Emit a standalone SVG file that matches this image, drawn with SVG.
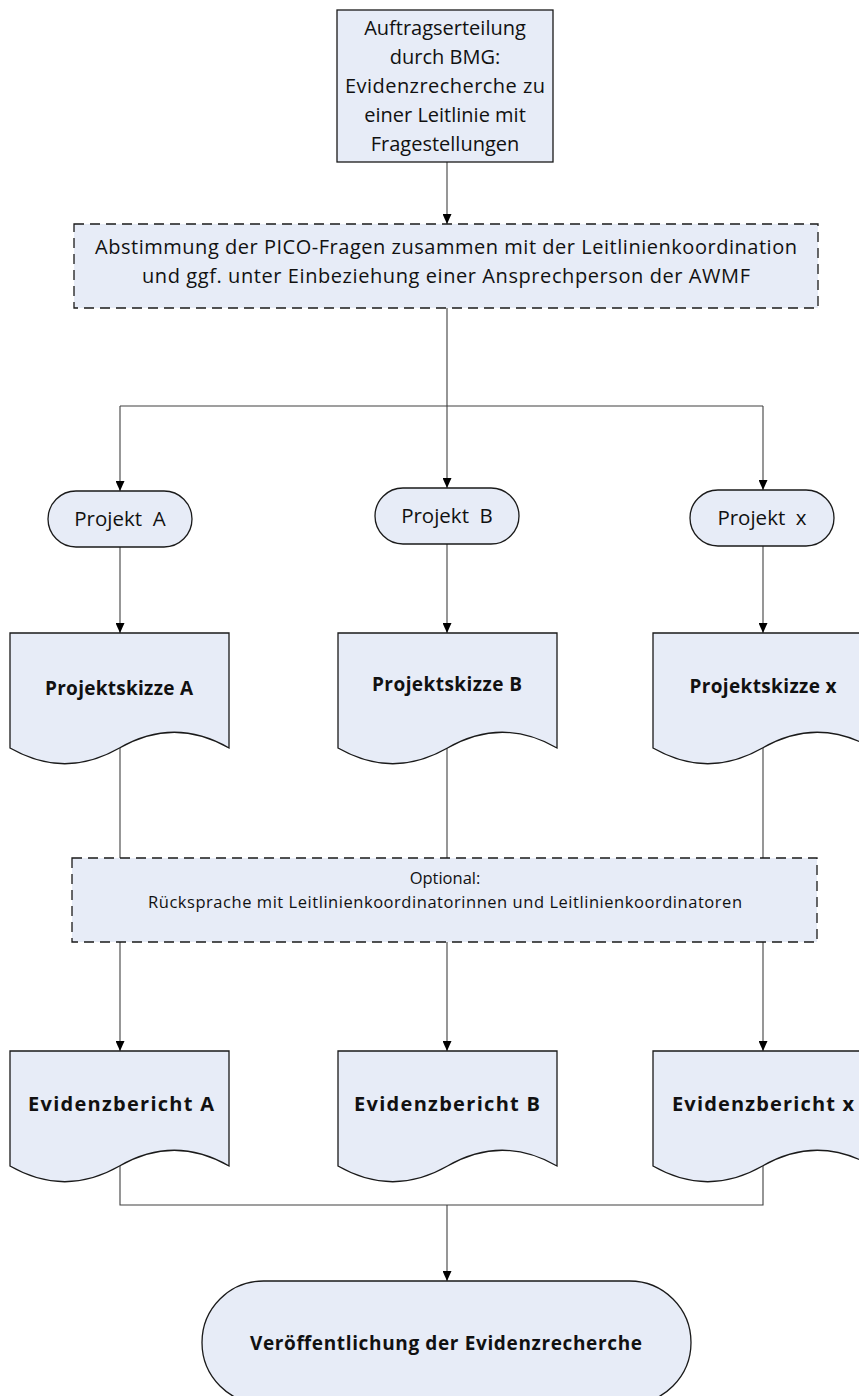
<svg xmlns="http://www.w3.org/2000/svg" xmlns:xlink="http://www.w3.org/1999/xlink" width="859" height="1396" viewBox="0 0 859 1396">
  <style>
    .box { fill: #e7ecf7; stroke: #1a1a1a; stroke-width: 1.3; }
    .dash { fill: #e7ecf7; stroke: #1a1a1a; stroke-width: 1.3; stroke-dasharray: 10 6; }
    .conn { fill: none; stroke: #404040; stroke-width: 1.1; }
    .arr { marker-end: url(#ah); }
    text { font-family: "Open Sans", Lato, "Liberation Sans", sans-serif; fill: #111; text-anchor: middle; }
    .t20 { font-size: 20px; }
    .t19 { font-size: 20px; }
    .t16 { font-size: 16.5px; }
    .p { font-size: 20.5px; }
    .b { font-weight: bold; font-size: 19px; }
    .be { font-weight: bold; font-size: 20px; }
  </style>
  <defs>
    <marker id="ah" viewBox="0 0 10 9" refX="10" refY="4.5" markerWidth="10" markerHeight="9" markerUnits="userSpaceOnUse" orient="auto">
      <path d="M0,0 L10,4.5 L0,9 Z" fill="#000"/>
    </marker>
    <!-- document shape with wavy bottom, 219 wide, sides 115 tall -->
    <path id="doc" d="M0,0 H219 V115 C182.5,94 146,94 109.5,115 C73,136 36.5,136 0,115 Z"/>
  </defs>

  <!-- connectors -->
  <g id="connectors">
    <line class="conn arr" x1="447" y1="162" x2="447" y2="224"/>
    <path class="conn" d="M447,308 V406 M120,406 H763"/>
    <line class="conn arr" x1="120" y1="406" x2="120" y2="491"/>
    <line class="conn arr" x1="447" y1="406" x2="447" y2="488"/>
    <line class="conn arr" x1="763" y1="406" x2="763" y2="490"/>
    <line class="conn arr" x1="120" y1="547" x2="120" y2="633"/>
    <line class="conn arr" x1="447" y1="544" x2="447" y2="633"/>
    <line class="conn arr" x1="763" y1="546" x2="763" y2="633"/>
    <line class="conn" x1="120" y1="748" x2="120" y2="858"/>
    <line class="conn" x1="447" y1="748" x2="447" y2="858"/>
    <line class="conn" x1="763" y1="748" x2="763" y2="858"/>
    <line class="conn arr" x1="120" y1="942" x2="120" y2="1051"/>
    <line class="conn arr" x1="447" y1="942" x2="447" y2="1051"/>
    <line class="conn arr" x1="763" y1="942" x2="763" y2="1051"/>
    <path class="conn" d="M120,1166 V1205 H763 V1166"/>
    <line class="conn arr" x1="447" y1="1205" x2="447" y2="1281"/>
  </g>

  <g id="auftrag">
    <rect class="box" x="337" y="10" width="216" height="152"/>
    <text class="t20" x="445" y="35">Auftragserteilung</text>
    <text class="t20" x="445" y="64">durch BMG:</text>
    <text class="t20" x="445" y="93" textLength="200">Evidenzrecherche zu</text>
    <text class="t20" x="445" y="122">einer Leitlinie mit</text>
    <text class="t20" x="445" y="151">Fragestellungen</text>
  </g>

  <g id="abstimmung">
    <rect class="dash" x="74" y="224" width="744" height="84"/>
    <text class="t19" x="446" y="254" textLength="702">Abstimmung der PICO-Fragen zusammen mit der Leitlinienkoordination</text>
    <text class="t19" x="446" y="283" textLength="608">und ggf. unter Einbeziehung einer Ansprechperson der AWMF</text>
  </g>

  <g id="projekt-a">
    <rect class="box" x="48" y="491" width="144" height="56" rx="28"/>
    <text class="p" x="120" y="526" xml:space="preserve">Projekt  A</text>
  </g>
  <g id="projekt-b">
    <rect class="box" x="375" y="488" width="144" height="56" rx="28"/>
    <text class="p" x="447" y="523" xml:space="preserve">Projekt  B</text>
  </g>
  <g id="projekt-x">
    <rect class="box" x="690" y="490" width="144" height="56" rx="28"/>
    <text class="p" x="762" y="525" xml:space="preserve">Projekt  x</text>
  </g>

  <g id="skizze-a">
    <use xlink:href="#doc" class="box" x="10" y="633"/>
    <text class="b" x="119" y="695" textLength="148">Projektskizze A</text>
  </g>
  <g id="skizze-b">
    <use xlink:href="#doc" class="box" x="338" y="633"/>
    <text class="b" x="447" y="691" textLength="150">Projektskizze B</text>
  </g>
  <g id="skizze-x">
    <use xlink:href="#doc" class="box" x="653" y="633"/>
    <text class="b" x="763" y="693" textLength="147">Projektskizze x</text>
  </g>

  <g id="ruecksprache">
    <rect class="dash" x="72" y="858" width="745" height="84"/>
    <text class="t16" x="445" y="884">Optional:</text>
    <text class="t16" x="445" y="908" textLength="594">Rücksprache mit Leitlinienkoordinatorinnen und Leitlinienkoordinatoren</text>
  </g>

  <g id="bericht-a">
    <use xlink:href="#doc" class="box" x="10" y="1051"/>
    <text class="be" x="121" y="1111" textLength="186">Evidenzbericht A</text>
  </g>
  <g id="bericht-b">
    <use xlink:href="#doc" class="box" x="338" y="1051"/>
    <text class="be" x="447" y="1111" textLength="186">Evidenzbericht B</text>
  </g>
  <g id="bericht-x">
    <use xlink:href="#doc" class="box" x="653" y="1051"/>
    <text class="be" x="763" y="1111" textLength="182">Evidenzbericht x</text>
  </g>

  <g id="veroeffentlichung">
    <rect class="box" x="202" y="1281" width="489" height="123" rx="61.5"/>
    <text class="b" x="446" y="1350" textLength="392">Veröffentlichung der Evidenzrecherche</text>
  </g>
</svg>
